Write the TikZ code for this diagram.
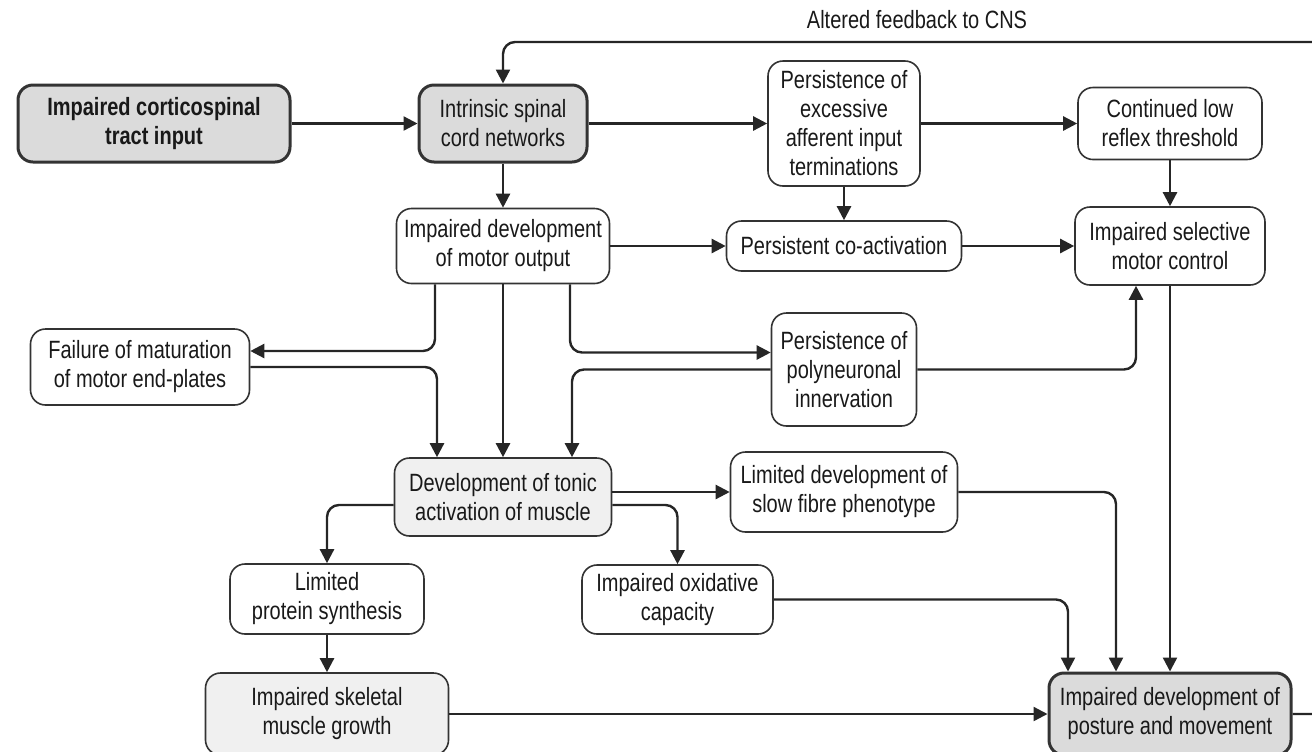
\documentclass[tikz,border=0pt]{standalone}
\usepackage{fontspec}
\setmainfont{Liberation Sans}[FakeStretch=0.8]
\usetikzlibrary{arrows.meta}

\begin{document}
\begin{tikzpicture}[x=0.5pt,y=-0.5pt,
  txt/.style={text=black!90,font=\fontsize{12.5}{14.5}\selectfont},
  box/.style={txt,draw=black!80,line width=0.8pt,rounded corners=7.5pt,align=center,inner sep=0pt},
  key/.style={box,fill=black!14,line width=1.5pt},
  soft/.style={box,fill=black!6},
  heavy/.style={font=\fontsize{12.5}{14.5}\selectfont\bfseries},
  link/.style={draw=black!85,-{Triangle[length=7pt,width=7pt]},line width=1.2pt,rounded corners=6pt}]

\useasboundingbox (0,0) rectangle (1312,751);
\clip (0,0) rectangle (1312,751);

\node[key,heavy,minimum width=136pt,minimum height=38.5pt] (cort) at (154,123.5) {Impaired corticospinal\\tract input};
\node[key,minimum width=84pt,minimum height=38.5pt] (intr) at (503,123.5) {Intrinsic spinal\\cord networks};
\node[box,minimum width=76pt,minimum height=62.5pt] (exc) at (844,123.5) {Persistence of\\excessive\\afferent input\\terminations};
\node[box,minimum width=92pt,minimum height=36pt] (low) at (1170,123.5) {Continued low\\reflex threshold};

\node[box,minimum width=106.5pt,minimum height=37.5pt] (mout) at (503,246) {Impaired development\\of motor output};
\node[box,minimum width=117.5pt,minimum height=25pt] (coact) at (844,246) {Persistent co-activation};
\node[box,minimum width=95pt,minimum height=39pt] (sel) at (1170,246) {Impaired selective\\motor control};

\node[box,minimum width=109.5pt,minimum height=38pt] (fail) at (140,367) {Failure of maturation\\of motor end-plates};
\node[box,minimum width=72.5pt,minimum height=56.5pt] (poly) at (844,369.5) {Persistence of\\polyneuronal\\innervation};

\node[soft,minimum width=108.5pt,minimum height=39pt] (tonic) at (503,497) {Development of tonic\\activation of muscle};
\node[box,minimum width=113.5pt,minimum height=40pt] (slow) at (844,492) {Limited development of\\slow fibre phenotype};

\node[box,minimum width=97pt,minimum height=35pt] (prot) at (327,599) {Limited\\protein synthesis};
\node[box,minimum width=95.5pt,minimum height=34.5pt] (oxid) at (677.5,599.5) {Impaired oxidative\\capacity};

\node[soft,minimum width=121.5pt,minimum height=41pt] (skel) at (327,714) {Impaired skeletal\\muscle growth};
\node[key,minimum width=121pt,minimum height=41pt] (post) at (1170,714) {Impaired development of\\posture and movement};

\node[txt] (fbtxt) at (917,20) {Altered feedback to CNS};

% top row
\draw[link] (cort) -- (intr);
\draw[link] (intr) -- (exc);
\draw[link] (exc) -- (low);
\draw[link] (intr) -- (mout);
\draw[link] (exc) -- (coact);
\draw[link] (low) -- (sel);
\draw[link] (mout) -- (coact);
\draw[link] (coact) -- (sel);

% middle
\draw[link] ([xshift=-34pt]mout.south) |- ([yshift=8pt]fail.east);
\draw[link] (fail.east) -| ([xshift=-33pt]tonic.north);
\draw[link] (mout) -- (tonic);
\draw[link] ([xshift=33.5pt]mout.south) |- ([yshift=8.5pt]poly.west);
\draw[link] (poly.west) -| ([xshift=34.5pt]tonic.north);
\draw[link] (poly.east) -| ([xshift=-17pt]sel.south);
\draw[link] (sel) -- (post);

% bottom
\draw[link] (slow.west -| tonic.east) -- (slow.west);
\draw[link] ([yshift=-4pt]tonic.east) -| (oxid.north);
\draw[link] ([yshift=-4pt]tonic.west) -| (prot.north);
\draw[link] (prot) -- (skel);
\draw[link] (skel) -- (post);
\draw[link] (slow.east) -| ([xshift=-27pt]post.north);
\draw[link] (oxid.east) -| ([xshift=-51pt]post.north);

% feedback loop
\coordinate (fb) at (1340,42);
\draw[link] (post.east) -| (fb) -| (intr.north);

\end{tikzpicture}
\end{document}
